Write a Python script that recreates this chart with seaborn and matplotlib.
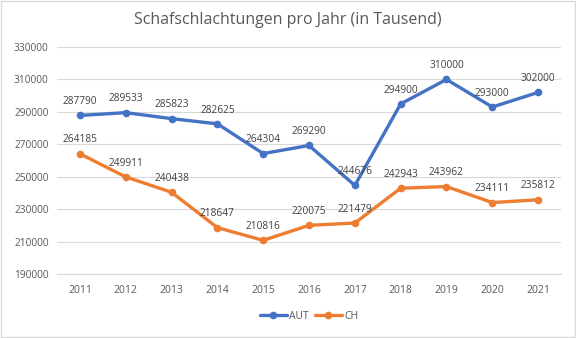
import matplotlib
matplotlib.use("Agg")
import matplotlib.pyplot as plt
import seaborn as sns
import pandas as pd
from matplotlib.patches import Rectangle

years = [2011, 2012, 2013, 2014, 2015, 2016, 2017, 2018, 2019, 2020, 2021]
aut = [287790, 289533, 285823, 282625, 264304, 269290, 244676, 294900, 310000, 293000, 302000]
ch = [264185, 249911, 240438, 218647, 210816, 220075, 221479, 242943, 243962, 234111, 235812]
series_names = ["AUT", "CH"]
title = "Schafschlachtungen pro Jahr (in Tausend)"
yticks = [190000, 210000, 230000, 250000, 270000, 290000, 310000, 330000]

df = pd.concat([
    pd.DataFrame({"Jahr": years, "Wert": aut, "Land": series_names[0]}),
    pd.DataFrame({"Jahr": years, "Wert": ch, "Land": series_names[1]}),
])

sns.set_theme(style="white")
plt.rcParams["font.family"] = ["Open Sans", "DejaVu Sans"]

fig = plt.figure(figsize=(5.76, 3.38), dpi=100)
ax = fig.add_axes([0.099, 0.189, 0.875, 0.672])

palette = {"AUT": "#4472C4", "CH": "#ED7D31"}
sns.lineplot(data=df, x="Jahr", y="Wert", hue="Land", palette=palette, ax=ax,
             marker="o", markersize=5.5, markeredgewidth=0, linewidth=2.4, legend=True)

for name, vals in zip(series_names, [aut, ch]):
    for x, v in zip(years, vals):
        ax.annotate(str(v), (x, v), xytext=(0, 6), textcoords="offset points",
                    ha="center", va="bottom", fontsize=7.3, color="#404040")

ax.set_xlim(2010.5, 2021.5)
ax.set_ylim(190000, 330000)
ax.set_yticks(yticks)
ax.set_yticklabels([str(t) for t in yticks])
ax.set_xticks(years)
ax.set_xticklabels([str(y) for y in years])
ax.tick_params(axis="y", labelsize=7.3, colors="#595959", length=0, pad=6)
ax.tick_params(axis="x", labelsize=7.5, colors="#595959", length=0, pad=8)
ax.yaxis.grid(True, color="#d9d9d9", linewidth=0.8)
ax.xaxis.grid(False)
for s in ["top", "right", "left"]:
    ax.spines[s].set_visible(False)
ax.spines["bottom"].set_color("#d9d9d9")
ax.spines["bottom"].set_linewidth(0.8)
ax.set_xlabel("")
ax.set_ylabel("")

fig.suptitle(title, x=0.5, y=0.965, fontsize=11.5, color="#595959")

handles, labels = ax.get_legend_handles_labels()
ax.legend(handles, labels, loc="center", bbox_to_anchor=(0.5, -0.185), ncol=2,
          frameon=False, fontsize=7.5, labelcolor="#595959", handlelength=2.6,
          columnspacing=0.6, handletextpad=0.2)

fig.patches.append(Rectangle((0.002, 0.003), 0.996, 0.994, transform=fig.transFigure,
                             fill=False, edgecolor="#d9d9d9", linewidth=1))

fig.savefig("out.png", dpi=100)
